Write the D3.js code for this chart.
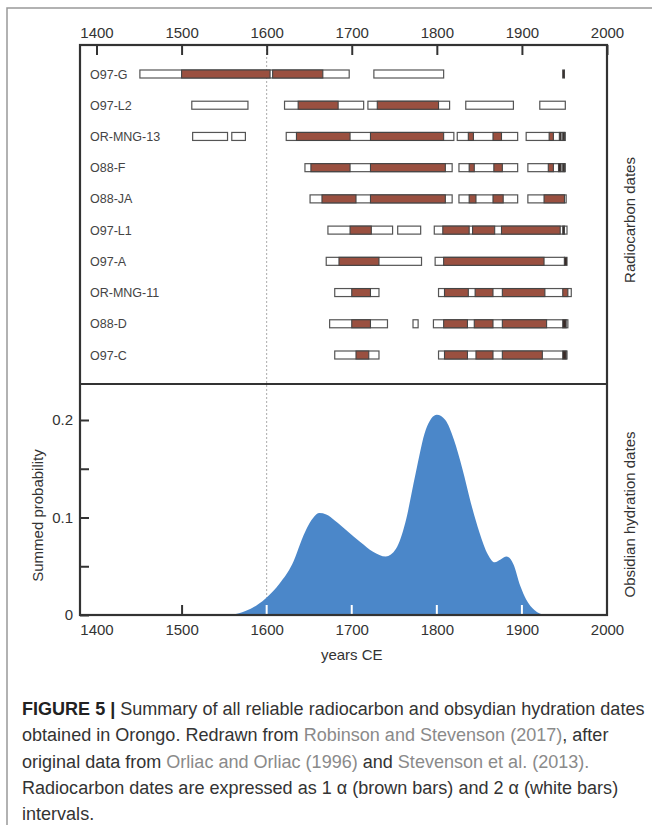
<!DOCTYPE html>
<html>
<head>
<meta charset="utf-8">
<script src="https://cdn.jsdelivr.net/npm/d3@7"></script>
<style>
  html, body { margin: 0; padding: 0; background: #fff; }
  svg { display: block; font-family: 'Liberation Sans', Arial, sans-serif; }
</style>
</head>
<body>
<div id="chart"></div>
<script>
// Samples, top to bottom
const samples = ['O97-G', 'O97-L2', 'OR-MNG-13', 'O88-F', 'O88-JA', 'O97-L1', 'O97-A', 'OR-MNG-11', 'O88-D', 'O97-C'];

// 2 sigma ranges (white bars), one list per sample
const twoSigma = [
  [[1451, 1697], [1726, 1808]],
  [[1512, 1578], [1621, 1714], [1719, 1815], [1834, 1890], [1921, 1951]],
  [[1513, 1554], [1559, 1575], [1623, 1820], [1824, 1895], [1905, 1951]],
  [[1645, 1818], [1826, 1895], [1907, 1951]],
  [[1651, 1818], [1826, 1895], [1907, 1952]],
  [[1672, 1748], [1754, 1781], [1797, 1953]],
  [[1670, 1782], [1798, 1950]],
  [[1680, 1732], [1802, 1958]],
  [[1674, 1742], [1772, 1778], [1796, 1954]],
  [[1680, 1732], [1802, 1953]]
];

// 1 sigma ranges (brown bars), one list per sample
const oneSigma = [
  [[1500, 1604], [1607, 1666], [1948, 1950]],
  [[1637, 1684], [1730, 1802]],
  [[1635, 1698], [1722, 1808], [1837, 1843], [1866, 1876], [1932, 1937], [1944, 1946], [1948, 1950]],
  [[1652, 1698], [1722, 1810], [1838, 1844], [1867, 1877], [1931, 1937], [1943, 1946], [1948, 1950]],
  [[1665, 1705], [1722, 1810], [1838, 1846], [1866, 1878], [1926, 1950]],
  [[1698, 1723], [1807, 1838], [1842, 1868], [1876, 1945], [1948, 1950]],
  [[1685, 1732], [1808, 1926], [1950, 1953]],
  [[1700, 1722], [1809, 1837], [1845, 1866], [1877, 1927], [1948, 1954]],
  [[1700, 1722], [1808, 1836], [1844, 1866], [1877, 1929], [1948, 1952]],
  [[1705, 1720], [1809, 1836], [1846, 1866], [1877, 1924], [1948, 1952]]
];

// Summed probability of the obsidian hydration dates
const ohYears  = [1560, 1575, 1590, 1600, 1615, 1630, 1645, 1655, 1662, 1670, 1680, 1695, 1710, 1725, 1740, 1752, 1763, 1775, 1787, 1800, 1810, 1820, 1830, 1840, 1850, 1860, 1868, 1875, 1882, 1890, 1898, 1905, 1915, 1927];
const ohValues = [0, 0.004, 0.011, 0.018, 0.032, 0.052, 0.085, 0.100, 0.1045, 0.103, 0.097, 0.086, 0.075, 0.065, 0.060, 0.068, 0.095, 0.145, 0.190, 0.2055, 0.200, 0.180, 0.150, 0.115, 0.085, 0.062, 0.054, 0.057, 0.060, 0.052, 0.030, 0.016, 0.005, 0];

const yearTicks = [1400, 1500, 1600, 1700, 1800, 1900, 2000];
const probTicks = [0, 0.05, 0.1, 0.15, 0.2];
const probLabels = [0, 0.1, 0.2];

const captionLines = [
  [['FIGURE 5 | ', 'bold'], ['Summary of all reliable radiocarbon and obsydian hydration dates', 'text']],
  [['obtained in Orongo. Redrawn from ', 'text'], ['Robinson and Stevenson (2017)', 'link'], [', after', 'text']],
  [['original data from ', 'text'], ['Orliac and Orliac (1996)', 'link'], [' and ', 'text'], ['Stevenson et al. (2013)', 'link'], ['.', 'link']],
  [['Radiocarbon dates are expressed as 1 \u03b1 (brown bars) and 2 \u03b1 (white bars)', 'text']],
  [['intervals.', 'text']]
];


/**
 * Layout
 */

const W = 652, H = 825;
const frame = { left: 80, right: 607, top: 45, mid: 384, bottom: 615 };
const ink = '#333';
const brown = '#9a5040';
const blue = '#4b87c9';

const svg = d3.select('#chart').append('svg')
  .attr('width', W)
  .attr('height', H);

const x = d3.scaleLinear().domain([1400, 2000]).range([96.5, 607]);
const yRow = d3.scalePoint().domain(samples).range([74, 355]);
const yProb = d3.scaleLinear().domain([0, 0.2]).range([frame.bottom, 420]);

// outer figure border
svg.append('path')
  .attr('d', `M7,${H} V8 H${W}`)
  .attr('fill', 'none')
  .attr('stroke', '#999')
  .attr('stroke-width', 1.5);

// dotted 1600 reference line
svg.append('line')
  .attr('x1', x(1600)).attr('x2', x(1600))
  .attr('y1', frame.top).attr('y2', frame.bottom)
  .attr('stroke', '#aaa')
  .attr('stroke-width', 1)
  .attr('stroke-dasharray', '2,2');

// top panel: radiocarbon ranges
const rows = svg.append('g').selectAll('g')
  .data(samples)
  .join('g')
  .attr('transform', d => `translate(0,${yRow(d)})`);

rows.append('text')
  .attr('x', 90)
  .attr('y', 4.5)
  .attr('font-size', 12.5)
  .attr('fill', '#444')
  .text(d => d);

const barH = 8;

rows.selectAll('rect.two')
  .data((d, i) => twoSigma[i])
  .join('rect')
  .attr('class', 'two')
  .attr('x', d => x(d[0]))
  .attr('y', -barH / 2)
  .attr('width', d => x(d[1]) - x(d[0]))
  .attr('height', barH)
  .attr('fill', '#fff')
  .attr('stroke', '#555')
  .attr('stroke-width', 1.2);

rows.selectAll('rect.one')
  .data((d, i) => oneSigma[i])
  .join('rect')
  .attr('class', 'one')
  .attr('x', d => x(d[0]))
  .attr('y', -barH / 2)
  .attr('width', d => x(d[1]) - x(d[0]))
  .attr('height', barH)
  .attr('fill', d => (d[1] - d[0]) <= 4 && d[0] >= 1940 ? '#3a2a26' : brown)
  .attr('stroke', '#444')
  .attr('stroke-width', 1.1);

// bottom panel: summed probability
const ohData = ohYears.map((yr, i) => ({ year: yr, p: ohValues[i] }));

const area = d3.area()
  .x(d => x(d.year))
  .y0(yProb(0))
  .y1(d => yProb(d.p))
  .curve(d3.curveMonotoneX);

svg.append('clipPath')
  .attr('id', 'oh-clip')
  .append('path')
  .attr('d', area(ohData));

const xBottom = d3.axisBottom(x)
  .tickValues(yearTicks)
  .tickSizeInner(-10)
  .tickSizeOuter(0)
  .tickPadding(9)
  .tickFormat(d3.format('d'));

const gxb = svg.append('g')
  .attr('transform', `translate(0,${frame.bottom})`)
  .call(xBottom);
gxb.select('.domain').remove();
gxb.selectAll('.tick line')
  .attr('stroke', ink)
  .attr('stroke-width', 2)
  .attr('opacity', d => (d === 1400 || d === 2000) ? 0 : 1);
gxb.selectAll('.tick text')
  .attr('font-size', 15)
  .attr('fill', ink)
  .attr('font-family', null);

svg.append('path')
  .datum(ohData)
  .attr('d', area)
  .attr('fill', blue);

// white ticks where the axis ticks sit inside the blue area
svg.append('g')
  .attr('clip-path', 'url(#oh-clip)')
  .selectAll('line')
  .data(yearTicks.filter(d => d > 1400 && d < 2000))
  .join('line')
  .attr('x1', d => x(d)).attr('x2', d => x(d))
  .attr('y1', frame.bottom).attr('y2', frame.bottom - 10)
  .attr('stroke', '#fff')
  .attr('stroke-width', 2);

const yLeft = d3.axisLeft(yProb)
  .tickValues(probTicks)
  .tickSizeInner(-9)
  .tickSizeOuter(0)
  .tickPadding(7)
  .tickFormat(d => probLabels.includes(d) ? String(d) : '');

const gy = svg.append('g')
  .attr('transform', `translate(${frame.left},0)`)
  .call(yLeft);
gy.select('.domain').remove();
gy.selectAll('.tick line').attr('stroke', ink).attr('stroke-width', 2);
gy.selectAll('.tick text')
  .attr('font-size', 15)
  .attr('fill', ink)
  .attr('font-family', null);

// top axis
const xTop = d3.axisTop(x)
  .tickValues(yearTicks)
  .tickSizeInner(-10)
  .tickSizeOuter(0)
  .tickPadding(7)
  .tickFormat(d3.format('d'));

const gxt = svg.append('g')
  .attr('transform', `translate(0,${frame.top})`)
  .call(xTop);
gxt.select('.domain').remove();
gxt.selectAll('.tick line').attr('stroke', ink).attr('stroke-width', 2);
gxt.selectAll('.tick text')
  .attr('font-size', 15)
  .attr('fill', ink)
  .attr('font-family', null);

// frames
svg.append('rect')
  .attr('x', frame.left).attr('y', frame.top)
  .attr('width', frame.right - frame.left)
  .attr('height', frame.bottom - frame.top)
  .attr('fill', 'none')
  .attr('stroke', ink)
  .attr('stroke-width', 2.2);

svg.append('line')
  .attr('x1', frame.left).attr('x2', frame.right)
  .attr('y1', frame.mid).attr('y2', frame.mid)
  .attr('stroke', ink)
  .attr('stroke-width', 2.2);

// axis titles
svg.append('text')
  .attr('x', x(1700))
  .attr('y', 660)
  .attr('text-anchor', 'middle')
  .attr('font-size', 15)
  .attr('fill', ink)
  .text('years CE');

svg.append('text')
  .attr('transform', `translate(43,${(frame.mid + frame.bottom) / 2 + 16}) rotate(-90)`)
  .attr('text-anchor', 'middle')
  .attr('font-size', 15)
  .attr('fill', ink)
  .text('Summed probability');

svg.append('text')
  .attr('transform', `translate(635,220) rotate(-90)`)
  .attr('text-anchor', 'middle')
  .attr('font-size', 15)
  .attr('fill', ink)
  .text('Radiocarbon dates');

svg.append('text')
  .attr('transform', `translate(635,${(frame.mid + frame.bottom) / 2 + 15}) rotate(-90)`)
  .attr('text-anchor', 'middle')
  .attr('font-size', 15)
  .attr('fill', ink)
  .text('Obsidian hydration dates');

// caption, font size fitted so the first line spans the figure width
const captionColors = { bold: '#222', text: '#333', link: '#8a8a8a' };

const captionTexts = captionLines.map((line, i) => {
  const t = svg.append('text')
    .attr('x', 22)
    .attr('y', 715 + i * 26.3)
    .attr('font-size', 16);

  line.forEach(([str, kind]) => {
    t.append('tspan')
      .attr('fill', captionColors[kind])
      .attr('font-weight', kind === 'bold' ? 'bold' : null)
      .text(str);
  });
  return t;
});

const firstLen = captionTexts[0].node().getComputedTextLength();
const captionSize = 16 * (645 - 22) / firstLen;
captionTexts.forEach(t => t.attr('font-size', captionSize));
</script>
</body>
</html>
